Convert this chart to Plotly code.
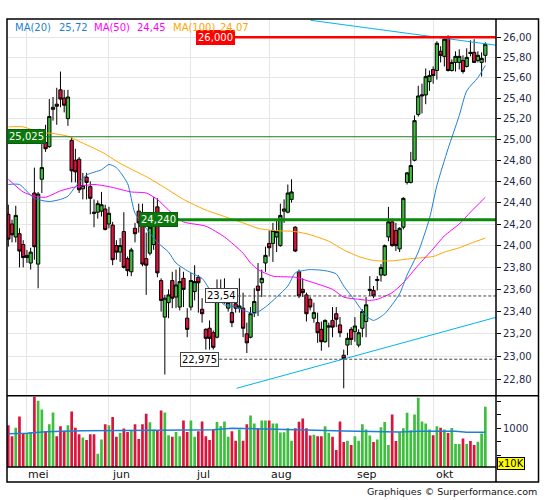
import math
import plotly.graph_objects as go

# ---------------- data ----------------
days = list(range(129))

open_ = [24.29,24.20,24.08,24.11,24.01,23.89,23.84,24.49,23.83,24.62,
 24.97,24.93,25.29,25.34,25.48,25.40,25.20,24.99,24.80,24.81,
 24.53,24.64,24.55,24.31,24.31,24.32,24.34,24.20,24.19,24.00,
 23.94,24.13,23.88,23.76,24.16,24.32,24.25,23.88,23.93,24.01,
 24.36,23.68,23.35,23.48,23.68,23.53,23.44,23.70,23.34,23.44,
 23.58,23.71,23.42,23.24,23.25,23.21,23.17,23.50,23.48,23.43,
 23.39,23.47,23.43,23.43,23.20,23.17,23.39,23.63,23.66,23.84,
 24.02,24.02,24.08,24.00,24.32,24.31,24.43,24.17,23.76,23.60,
 23.55,23.51,23.34,23.30,23.24,23.13,23.26,23.32,23.38,23.28,
 23.01,23.10,23.24,23.22,23.10,23.25,23.31,23.59,23.59,23.68,
 23.73,23.73,24.08,24.22,24.14,23.97,24.17,24.59,24.59,24.80,
 25.24,25.42,25.43,25.56,25.68,25.67,25.86,25.81,25.99,25.67,
 25.75,25.75,25.77,25.71,25.85,25.85,25.77,25.75,25.82]

high = [24.38,24.24,24.37,24.16,24.05,23.96,23.98,24.73,24.50,24.97,
 25.14,25.39,25.41,25.50,25.66,25.48,25.48,25.02,24.91,24.83,
 24.68,24.68,24.60,24.43,24.42,24.50,24.38,24.36,24.22,24.05,
 24.07,24.31,23.90,23.98,24.21,24.39,24.39,24.12,24.27,24.45,
 24.44,23.70,23.55,23.60,23.76,23.78,23.80,23.76,23.43,23.75,
 23.82,23.73,23.52,23.25,23.32,23.23,23.69,23.69,23.70,23.55,
 23.48,23.53,23.70,23.57,23.30,23.44,23.61,23.84,23.78,23.99,
 24.14,24.21,24.23,24.39,24.43,24.57,24.62,24.18,23.78,23.70,
 23.57,23.53,23.48,23.39,23.31,23.33,23.30,23.44,23.44,23.35,
 23.06,23.21,23.26,23.35,23.24,23.42,23.53,23.72,23.63,23.72,
 23.83,24.01,24.36,24.25,24.21,24.17,24.45,24.69,24.88,25.23,
 25.52,25.54,25.69,25.67,25.71,25.96,25.91,26.00,26.02,25.78,
 25.86,25.88,25.82,25.89,25.97,25.98,25.86,25.85,25.95]

low = [23.99,24.03,24.03,23.80,23.80,23.84,23.78,23.87,23.61,24.49,
 24.88,24.92,25.18,25.14,25.31,25.26,25.13,24.59,24.59,24.49,
 24.43,24.43,24.29,24.17,24.25,24.27,24.14,24.16,23.82,23.87,
 23.85,23.79,23.72,23.72,24.03,24.12,23.81,23.55,23.91,23.96,
 23.71,23.40,22.84,23.34,23.43,23.43,23.41,23.44,23.17,23.41,
 23.50,23.39,23.30,23.06,23.06,23.06,23.16,23.49,23.47,23.40,
 23.26,23.39,23.39,23.17,23.03,23.16,23.35,23.36,23.53,23.76,
 23.90,23.85,23.94,23.99,24.21,24.30,24.40,23.94,23.52,23.53,
 23.31,23.41,23.30,23.12,23.05,23.12,23.08,23.17,23.26,23.17,
 22.72,23.01,23.10,23.13,23.08,23.17,23.17,23.54,23.52,23.59,
 23.67,23.72,24.04,23.99,23.95,23.94,24.15,24.57,24.58,24.79,
 25.22,25.25,25.34,25.47,25.54,25.58,25.75,25.71,25.66,25.66,
 25.66,25.68,25.64,25.70,25.81,25.75,25.75,25.61,25.75]

close = [24.06,24.10,24.28,23.95,23.89,23.91,23.94,23.99,24.48,24.73,
 24.91,25.22,25.31,25.32,25.39,25.33,25.41,24.70,24.69,24.52,
 24.56,24.59,24.44,24.30,24.39,24.38,24.15,24.30,23.87,23.94,
 24.00,23.80,23.77,23.96,24.11,24.21,23.83,23.82,24.17,24.29,
 23.75,23.50,23.52,23.55,23.52,23.64,23.67,23.60,23.24,23.68,
 23.67,23.66,23.38,23.16,23.16,23.08,23.55,23.60,23.51,23.48,
 23.30,23.43,23.45,23.25,23.12,23.38,23.49,23.59,23.70,23.91,
 23.98,24.14,24.13,24.28,24.34,24.49,24.50,23.95,23.54,23.57,
 23.38,23.44,23.39,23.21,23.13,23.32,23.27,23.26,23.33,23.21,
 22.98,23.16,23.15,23.27,23.21,23.40,23.46,23.60,23.54,23.69,
 23.80,24.00,24.22,24.00,24.00,24.16,24.44,24.68,24.75,25.18,
 25.42,25.43,25.61,25.62,25.62,25.94,25.82,25.98,25.67,25.75,
 25.81,25.81,25.66,25.80,25.84,25.75,25.82,25.79,25.93]

volume = [1044,884,1010,1175,932,932,947,1470,1408,1277,
 947,1059,1234,884,1030,962,1044,1248,1010,913,
 864,826,913,913,622,835,1059,1044,1166,874,
 932,996,947,962,1059,840,1059,1214,1088,981,
 960,1263,1234,898,874,947,884,1117,947,1117,
 874,957,1102,884,826,986,1093,1030,1102,874,
 957,816,981,816,1059,1190,1073,996,1117,1117,
 1117,1073,1073,937,942,1000,816,1000,1098,1146,
 1000,894,903,884,884,1030,932,874,680,1102,
 796,816,753,884,816,1059,981,894,796,835,
 1015,1093,753,1204,811,942,1000,1229,971,1204,
 1452,1102,1073,981,898,1030,1010,981,932,1005,
 767,767,850,767,811,753,801,923,1321]

ma20_x = [0,3,7,11,14,16,18,21,25,27,29,32,34,37,40,43,45,49,52,54,56,58,61,64,66,
          69,72,75,77,79,81,85,88,90,93,96,98,101,105,107,110,113,115,118,121,123,126,128]
ma20_y = [24.57,24.57,24.44,24.41,24.43,24.46,24.55,24.66,24.71,24.76,24.73,24.58,24.30,
          24.16,24.03,23.94,23.84,23.75,23.70,23.60,23.52,23.46,23.44,23.40,23.38,
          23.44,23.53,23.63,23.75,23.77,23.78,23.77,23.74,23.63,23.50,23.36,23.32,23.38,
          23.56,23.73,23.94,24.25,24.56,24.91,25.23,25.47,25.60,25.72]

ma50_x = [0,4,7,10,14,17,23,27,33,37,40,43,47,53,58,63,65,67,71,77,81,87,90,94,97,
          99,103,106,110,114,117,121,124,128]
ma50_y = [24.62,24.50,24.46,24.45,24.51,24.54,24.57,24.55,24.50,24.49,24.43,24.33,24.22,
          24.18,24.08,23.93,23.84,23.78,23.72,23.71,23.67,23.60,23.53,23.51,23.50,
          23.51,23.57,23.66,23.82,23.97,24.09,24.20,24.31,24.45]

ma100_x = [0,4,9,11,16,19,25,30,35,37,42,47,53,58,63,67,71,77,81,86,90,94,97,99,103,
           108,114,117,121,124,128]
ma100_y = [25.12,25.12,25.06,25.06,25.03,24.98,24.88,24.77,24.68,24.645,24.54,24.43,24.33,
           24.27,24.21,24.16,24.14,24.13,24.10,24.04,23.96,23.90,23.87,23.86,23.86,
           23.88,23.90,23.94,23.98,24.02,24.07]

vma_x = [0,5,10,20,40,55,60,65,75,80,90,100,105,110,120,123,128]
vma_y = [920,925,950,965,970,980,1000,995,990,975,960,952,945,955,955,940,940]

ma_names = ["MA(20)", "MA(50)", "MA(100)"]
ma_values = ["25,72", "24,45", "24,07"]

# support / resistance levels and trend lines
levels = [26.000, 25.025, 24.240, 23.54, 22.975]
level_text = ["26,000", "25,025", "24,240", "23,54", "22,975"]
trend_up_x = [61.3, 131.1]
trend_up_y = [22.72, 23.35]
trend_down_x = [81.1, 131.0]
trend_down_y = [26.17, 25.92]

price_ticks = [22.8 + 0.2 * k for k in range(17)]
price_tick_text = [("%.2f" % v).replace(".", ",") for v in price_ticks]
vol_ticks = [600, 800, 1000, 1200, 1400]
vol_tick_text = ["", "", "1000", "", ""]
month_start = [5, 27, 49, 70, 93, 114]
month_names = ["mei", "jun", "jul", "aug", "sep", "okt"]

# ---------------- style ----------------
FONT = "DejaVu Sans"
GREEN = "#3cbf3c"
RED = "#dc143c"
GRID = "#e6e6e6"
TICKC = "#1e2a48"
C20, C50, C100 = "#1f7fd6", "#ff00ff", "#ffa500"
TREND = "#00b4f0"

W, H = 545, 500
L, R, T, B = 7, 496, 19, 467          # plot area in pixels
PW, PH = R - L, B - T
def px(x): return (x - L) / PW
def py(y): return (B - y) / PH

XR = [-0.349, 130.86]
price_dom = [py(395.5), 1]
vol_dom = [0, py(396.5)]
YR = [math.log10(22.657), math.log10(26.183)]

fig = go.Figure()

vol_colors = [GREEN if c >= o else RED for o, c in zip(open_, close)]
fig.add_trace(go.Bar(x=days, y=volume, marker=dict(color=vol_colors, line=dict(width=0)),
                     xaxis="x2", yaxis="y2", hoverinfo="skip", showlegend=False))
fig.add_trace(go.Scatter(x=vma_x, y=vma_y, mode="lines", line=dict(color=C20, width=1.5),
                         xaxis="x2", yaxis="y2", hoverinfo="skip", showlegend=False))

fig.add_trace(go.Candlestick(
    x=days, open=open_, high=high, low=low, close=close,
    increasing=dict(fillcolor=GREEN, line=dict(color="black", width=1)),
    decreasing=dict(fillcolor=RED, line=dict(color="black", width=1)),
    whiskerwidth=0, xaxis="x", yaxis="y", hoverinfo="skip", showlegend=False))

for xs, ys, col in [(ma100_x, ma100_y, C100), (ma50_x, ma50_y, C50), (ma20_x, ma20_y, C20)]:
    fig.add_trace(go.Scatter(x=xs, y=ys, mode="lines", line=dict(color=col, width=1, shape="spline", smoothing=0.6),
                             xaxis="x", yaxis="y", hoverinfo="skip", showlegend=False))

for xs, ys in [(trend_up_x, trend_up_y), (trend_down_x, trend_down_y)]:
    fig.add_trace(go.Scatter(x=xs, y=ys, mode="lines", line=dict(color=TREND, width=1),
                             xaxis="x", yaxis="y", hoverinfo="skip", showlegend=False))

# level lines: (start index, colour, width, dash, label style)
level_style = [
    (60.83, "#ff0000", 2.5, "solid", dict(bgcolor="#ff0000", bordercolor="#ff0000", font=dict(color="white")), "right"),
    (XR[0], "#1c7a1c", 1, "solid", dict(bgcolor="#0a780a", bordercolor="#0a600a", font=dict(color="white")), "left"),
    (45.53, "#0a8a0a", 3, "solid", dict(bgcolor="#0a780a", bordercolor="#0a600a", font=dict(color="white")), "right"),
    (61.7, "#444444", 1, "3px,2px", dict(bgcolor="white", bordercolor="#444444", font=dict(color="black")), "right"),
    (56.6, "#444444", 1, "3px,2px", dict(bgcolor="white", bordercolor="#444444", font=dict(color="black")), "right"),
]
annotations = []
for lv, txt, (x0, col, wdt, dash, lab, anc) in zip(levels, level_text, level_style):
    fig.add_trace(go.Scatter(x=[x0, XR[1]], y=[lv, lv], mode="lines",
                             line=dict(color=col, width=wdt, dash=dash),
                             xaxis="x", yaxis="y", hoverinfo="skip", showlegend=False))
    f = dict(family=FONT, size=10)
    f.update(lab["font"])
    annotations.append(dict(x=x0, y=math.log10(lv), xref="x", yref="y", text=txt, showarrow=False,
                            xanchor=anc, yanchor="middle", bgcolor=lab["bgcolor"],
                            bordercolor=lab["bordercolor"], borderwidth=1, borderpad=1, font=f))

# MA legend at top
leg_x = [(13.3, 57.3), (91.7, 135.0), (170.7, 218.3)]
for (xa, xb), name, val, col in zip(leg_x, ma_names, ma_values, [C20, C50, C100]):
    for xx, tt in [(xa, name), (xb, val)]:
        annotations.append(dict(x=px(xx), y=py(27), xref="paper", yref="paper", text=tt, showarrow=False,
                                xanchor="left", yanchor="middle", font=dict(family=FONT, size=10, color=col)))

# month labels
for ms, mn in zip(month_start, month_names):
    annotations.append(dict(x=ms, y=py(474.5), xref="x2", yref="paper", text=mn, showarrow=False,
                            xanchor="center", yanchor="middle", xshift=12,
                            font=dict(family=FONT, size=11, color="#111111")))

annotations.append(dict(x=px(497), y=py(463), xref="paper", yref="paper", text="x10K", showarrow=False,
                        xanchor="left", yanchor="middle", bgcolor="#ffff00", bordercolor="black",
                        borderwidth=1, borderpad=0, font=dict(family=FONT, size=10, color="black")))
annotations.append(dict(x=px(539), y=py(491), xref="paper", yref="paper",
                        text="Graphiques © Surperformance.com", showarrow=False,
                        xanchor="right", yanchor="middle", font=dict(family=FONT, size=9.5, color="#111111")))

frame = dict(color="black", width=1.5)
shapes = [
    dict(type="rect", xref="paper", yref="paper", x0=0, x1=px(538.5), y0=py(482), y1=1, line=frame),
    dict(type="line", xref="paper", yref="paper", x0=1, x1=1, y0=py(482), y1=1, line=frame),
    dict(type="line", xref="paper", yref="paper", x0=0, x1=px(538.5), y0=py(395.8), y1=py(395.8), line=frame),
    dict(type="line", xref="paper", yref="paper", x0=0, x1=1, y0=0, y1=0, line=frame),
]

axis_common = dict(range=XR, tickvals=month_start, showticklabels=False, ticks="", showgrid=True,
                   gridcolor=GRID, gridwidth=1, zeroline=False, showline=False, fixedrange=True)

fig.update_layout(
    width=W, height=H, margin=dict(l=L, r=W - R, t=T, b=H - B),
    paper_bgcolor="white", plot_bgcolor="white",
    font=dict(family=FONT, size=10, color=TICKC),
    showlegend=False, boxgap=0.12, boxgroupgap=0.0, bargap=0.28,
    xaxis=dict(domain=[0, 1], anchor="y", rangeslider=dict(visible=False), **axis_common),
    xaxis2=dict(domain=[0, 1], anchor="y2", **axis_common),
    yaxis=dict(domain=price_dom, anchor="x", type="log", range=YR, side="right",
               tickvals=price_ticks, ticktext=price_tick_text, ticks="outside", ticklen=4,
               tickcolor="black", showgrid=True, gridcolor=GRID, zeroline=False, showline=False,
               tickfont=dict(family=FONT, size=10, color=TICKC), fixedrange=True),
    yaxis2=dict(domain=vol_dom, anchor="x2", range=[427, 1471], side="right",
                tickvals=vol_ticks, ticktext=vol_tick_text, ticks="outside", ticklen=4,
                tickcolor="black", showgrid=False, zeroline=False, showline=False,
                tickfont=dict(family=FONT, size=10, color=TICKC), fixedrange=True),
    annotations=annotations, shapes=shapes,
)

fig.write_html("out.html", config={"displayModeBar": False},
               post_script="document.body.style.margin='0px';document.body.style.overflow='hidden';")
